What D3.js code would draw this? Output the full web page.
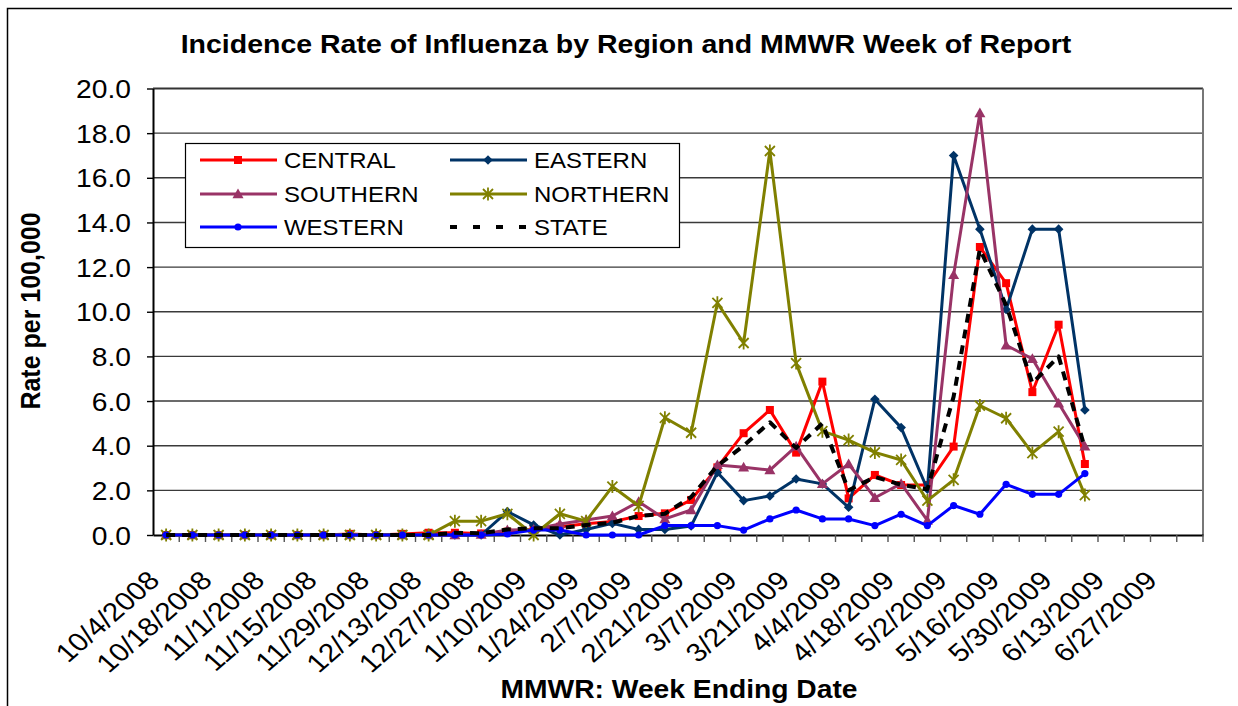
<!DOCTYPE html>
<html><head><meta charset="utf-8">
<script src="https://cdn.jsdelivr.net/npm/d3@7"></script>
<style>
body{margin:0;background:#fff}
svg{display:block}
text{font-family:Arial,"Liberation Sans",sans-serif;fill:#000}
</style>
</head><body>
<svg id="chart" width="1238" height="706"></svg>
<script>
// ---- data ----
const weeks = ["10/4/2008","10/11/2008","10/18/2008","10/25/2008","11/1/2008","11/8/2008","11/15/2008","11/22/2008","11/29/2008","12/6/2008","12/13/2008","12/20/2008","12/27/2008","1/3/2009","1/10/2009","1/17/2009","1/24/2009","1/31/2009","2/7/2009","2/14/2009","2/21/2009","2/28/2009","3/7/2009","3/14/2009","3/21/2009","3/28/2009","4/4/2009","4/11/2009","4/18/2009","4/25/2009","5/2/2009","5/9/2009","5/16/2009","5/23/2009","5/30/2009","6/6/2009","6/13/2009","6/20/2009","6/27/2009","7/4/2009"];
const yTicks = [0,2,4,6,8,10,12,14,16,18,20];
const central  = [0,0,0,0,0,0,0,0.05,0,0.05,0.1,0.1,0.07,0.15,0.25,0.37,0.5,0.6,0.85,0.97,1.57,3.03,4.56,5.6,3.69,6.87,1.64,2.69,2.24,2.24,3.96,12.9,11.28,6.4,9.42,3.18];
const eastern  = [0,0,0,0,0,0,0,0,0,0,0,0,0,1.05,0.45,0,0.25,0.52,0.25,0.25,0.4,2.8,1.54,1.75,2.51,2.29,1.24,6.08,4.81,2.05,17.0,13.7,10.1,13.7,13.7,5.6];
const southern = [0,0,0,0,0,0,0,0,0,0,0,0,0.02,0.22,0.25,0.49,0.67,0.85,1.49,0.72,1.12,3.14,3.03,2.91,3.97,2.29,3.18,1.67,2.3,0.65,11.65,18.9,8.5,7.89,5.9,3.97];
const northern = [0,0,0,0,0,0,0,0,0,0,0,0.62,0.62,0.95,0,0.95,0.62,2.17,1.3,5.25,4.58,10.4,8.6,17.2,7.7,4.65,4.25,3.7,3.36,1.54,2.47,5.8,5.23,3.67,4.63,1.79];
const western  = [0,0,0,0,0,0,0,0,0,0,0,0,0,0.05,0.22,0.22,0,0,0,0.42,0.42,0.42,0.22,0.72,1.12,0.72,0.72,0.42,0.93,0.42,1.32,0.93,2.27,1.82,1.82,2.75];
const state    = [0,0,0,0,0,0,0,0,0,0,0,0.1,0.08,0.25,0.3,0.3,0.45,0.55,0.85,0.95,1.7,3.1,4.0,5.05,3.9,5.0,2.0,2.6,2.25,2.05,6.2,12.8,10.3,6.8,8.0,3.9];

const seriesNames = ["CENTRAL","EASTERN","SOUTHERN","NORTHERN","WESTERN","STATE"];
const seriesValues = [central, eastern, southern, northern, western, state];
const seriesColors = ["#FF0000","#003366","#993366","#808000","#0000FF","#000000"];
const seriesMarkers = ["square","diamond","triangle","star","circle","none"];

// ---- layout ----
const SX = 1.13; // horizontal stretch of text
const svg = d3.select("#chart");
const L = 153, R = 1203, T = 88.5, B = 535;
const x = d3.scaleBand().domain(weeks).range([L, R]);
const cx = w => x(w) + x.bandwidth()/2;
const y = d3.scaleLinear().domain([0,20]).range([B, T]);

// outer frame
svg.append("path").attr("d","M7.5,706 L7.5,8.5 L1232,8.5").attr("fill","none").attr("stroke","#000").attr("stroke-width",1.5);

// title
svg.append("text").attr("transform",`translate(626,53) scale(1.14,1)`)
  .attr("text-anchor","middle").attr("font-weight","bold").attr("font-size",25)
  .text("Incidence Rate of Influenza by Region and MMWR Week of Report");

// gridlines
svg.append("g").selectAll("line").data(yTicks.filter(d=>d>0)).join("line")
  .attr("x1",L).attr("x2",R).attr("y1",d=>y(d)).attr("y2",d=>y(d))
  .attr("stroke",d=>d===20?"#333":"#3a3a3a").attr("stroke-width",d=>d===20?2.2:1.4);
// right border
svg.append("line").attr("x1",R).attr("x2",R).attr("y1",T).attr("y2",B).attr("stroke","#777").attr("stroke-width",2);

// y axis
const yAxis = svg.append("g").attr("transform",`translate(${L},0)`)
  .call(d3.axisLeft(y).tickValues(yTicks).tickFormat(d3.format(".1f")).tickSize(6).tickSizeOuter(0));
yAxis.select(".domain").attr("stroke","#000").attr("stroke-width",2);
yAxis.selectAll(".tick line").attr("stroke","#000").attr("stroke-width",1.4);
yAxis.selectAll(".tick text").attr("x",-22/SX).attr("dy","0.36em").attr("transform",`scale(${SX},1)`)
  .attr("font-size",25).attr("font-family",null);

// x axis
const xAxis = svg.append("g").attr("transform",`translate(0,${B})`)
  .call(d3.axisBottom(x).tickValues(weeks.filter((d,i)=>i%2===0)).tickSize(0).tickSizeOuter(0));
xAxis.select(".domain").attr("stroke","#000").attr("stroke-width",2);
xAxis.selectAll(".tick text").attr("y",0).attr("dy",null).attr("text-anchor","end")
  .attr("transform",`translate(-5,47) scale(1.14,1) rotate(-45)`)
  .attr("font-size",26).attr("font-family",null);
// category boundary ticks
svg.append("g").selectAll("line").data(weeks.map(w=>x(w)).concat([R]).slice(1)).join("line")
  .attr("x1",d=>d).attr("x2",d=>d).attr("y1",B).attr("y2",B+7)
  .attr("stroke","#555").attr("stroke-width",1.4);

// axis titles
svg.append("text").attr("transform",`translate(40,311) scale(${SX},1) rotate(-90)`)
  .attr("text-anchor","middle").attr("font-weight","bold").attr("font-size",25).text("Rate per 100,000");
svg.append("text").attr("transform",`translate(679,698) scale(${SX},1)`)
  .attr("text-anchor","middle").attr("font-weight","bold").attr("font-size",25).text("MMWR: Week Ending Date");

// markers
function drawMarker(g, type, color){
  if(type==="square") g.append("rect").attr("x",-4).attr("y",-4).attr("width",8).attr("height",8).attr("fill",color);
  else if(type==="diamond") g.append("path").attr("d","M0,-4.8L4.8,0L0,4.8L-4.8,0Z").attr("fill",color);
  else if(type==="triangle") g.append("path").attr("d","M0,-5.5L5.5,4.2L-5.5,4.2Z").attr("fill",color);
  else if(type==="circle") g.append("circle").attr("r",3.6).attr("fill",color);
  else if(type==="star") g.append("path").attr("d","M-5,-5L5,5M-5,5L5,-5M0,-6.5L0,6.5").attr("stroke",color).attr("stroke-width",1.8).attr("fill","none");
}

const line = d3.line().x((v,i)=>cx(weeks[i])).y(v=>y(v));
const plot = svg.append("g");
seriesValues.forEach((vals, s) => {
  const g = plot.append("g");
  g.append("path").attr("d", line(vals)).attr("fill","none")
    .attr("stroke", seriesColors[s]).attr("stroke-width", s===5?4:3)
    .attr("stroke-dasharray", s===5?"9,7":null).attr("stroke-linejoin","round");
  if(seriesMarkers[s]!=="none"){
    vals.forEach((v,i)=>{
      const m = g.append("g").attr("transform",`translate(${cx(weeks[i])},${y(v)})`);
      drawMarker(m, seriesMarkers[s], seriesColors[s]);
    });
  }
});

// legend
const lg = svg.append("g");
lg.append("rect").attr("x",185.5).attr("y",143.5).attr("width",494).attr("height",104)
  .attr("fill","#fff").attr("stroke","#000").attr("stroke-width",1.2);
const rowsY = [160,194,227];
seriesNames.forEach((name,s)=>{
  const col = s%2, row = Math.floor(s/2);
  const x0 = col===0?200:450, yy = rowsY[row];
  lg.append("line").attr("x1",x0).attr("x2",x0+77).attr("y1",yy).attr("y2",yy)
    .attr("stroke",seriesColors[s]).attr("stroke-width",s===5?4:3)
    .attr("stroke-dasharray",s===5?"7,16":null);
  if(seriesMarkers[s]!=="none"){
    const m = lg.append("g").attr("transform",`translate(${x0+38},${yy})`);
    drawMarker(m, seriesMarkers[s], seriesColors[s]);
  }
  lg.append("text").attr("transform",`translate(${x0+84},${yy+8}) scale(1.09,1)`)
    .attr("font-size",22).text(name);
});
</script>
</body></html>
